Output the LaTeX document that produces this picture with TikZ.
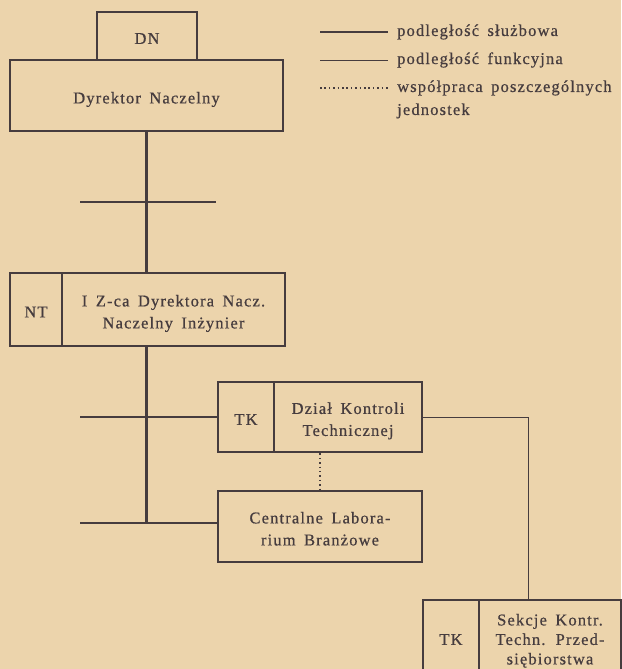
\documentclass[tikz,border=0pt]{standalone}
\usepackage{fontspec}
\setmainfont{Liberation Serif}[LetterSpace=7,WordSpace=1.6,FakeBold=0.6]
\usetikzlibrary{positioning}
\definecolor{paper}{RGB}{236,212,172}
\definecolor{ink}{RGB}{70,60,62}
\newcommand{\unittext}[1]{\raisebox{-3.5pt}[\height][\depth]{\begin{tabular}{@{}c@{}}#1\end{tabular}}}

\tikzstyle{unitbox} = [draw=ink,line width=2.7pt,inner sep=2pt,text=ink,font=\fontsize{16.5}{22}\selectfont]
\tikzstyle{sluzbowa} = [draw=ink,line width=2.9pt]
\tikzstyle{funkcyjna} = [draw=ink,line width=0.9pt]
\tikzstyle{wspolpraca} = [draw=ink,line width=1.5pt,dash pattern=on 1.5pt off 2.9pt]

\begin{document}
\begin{tikzpicture}
      [x=1pt,y=-1pt,%
      legendtext/.style={anchor=west,inner sep=0pt,text=ink,font=\fontsize{16.5}{22}\selectfont}]
      \useasboundingbox[fill=paper] (0,0) rectangle (621,669);
      %% boxes
      \foreach \nodename/\x/\y/\w/\h/\label in {
        dn/147/36/100/48/DN,
        dyr/146.5/95.5/273/71/Dyrektor Naczelny,
        ntcode/36/309.5/52/73/NT,
        nt/173.5/309.5/223/73/{I Z-ca Dyrektora Nacz.\\Naczelny Inżynier},
        tkcode/246/417/56/70/TK,
        tk/348/417/148/70/{Dział Kontroli\\Technicznej},
        lab/320/526.5/204/71/{Centralne Labora-\\rium Branżowe},
        skcode/451/637/56/74/TK,
        sk/550/637/142/74/{Sekcje Kontr.\\[-2.5pt]Techn. Przed-\\[-2.5pt]siębiorstwa}}
      {
        \node (\nodename) at (\x,\y) [unitbox,minimum width=\w,minimum height=\h] {\unittext{\label}};
      }
      %% free ends
      \coordinate (barA) at (80,202);
      \coordinate (barAend) at (216,202);
      \coordinate (barB) at (80,417);
      \coordinate (barC) at (80,523);
      \coordinate (turn) at (528,417);
      %% edges or lines
      \draw[sluzbowa] (dyr.south) -- (dyr.south |- nt.north);
      \draw[sluzbowa] (barA) -- (barAend);
      \draw[sluzbowa] (dyr.south |- nt.south) -- (dyr.south |- barC);
      \draw[sluzbowa] (barB) -- (tkcode.west);
      \draw[sluzbowa] (barC) -- (lab.west |- barC);
      \draw[funkcyjna] (tk.east) -- (turn) -- (turn |- sk.north);
      \draw[wspolpraca] (lab.north |- tk.south) -- (lab.north);
      %% legend
      \foreach \name/\y/\style/\label in {
        sl/32/sluzbowa/podległość służbowa,
        fu/60/funkcyjna/podległość funkcyjna,
        ws/88/wspolpraca/współpraca poszczególnych}
      {
        \coordinate (\name a) at (320,\y);
        \coordinate (\name b) at (388,\y);
        \draw[\style] (\name a) -- (\name b);
        \node[legendtext] (\name t) at (397,\y) {\label};
      }
      \node[legendtext] (jed) at (397,111) {jednostek};
\end{tikzpicture}
\end{document}
